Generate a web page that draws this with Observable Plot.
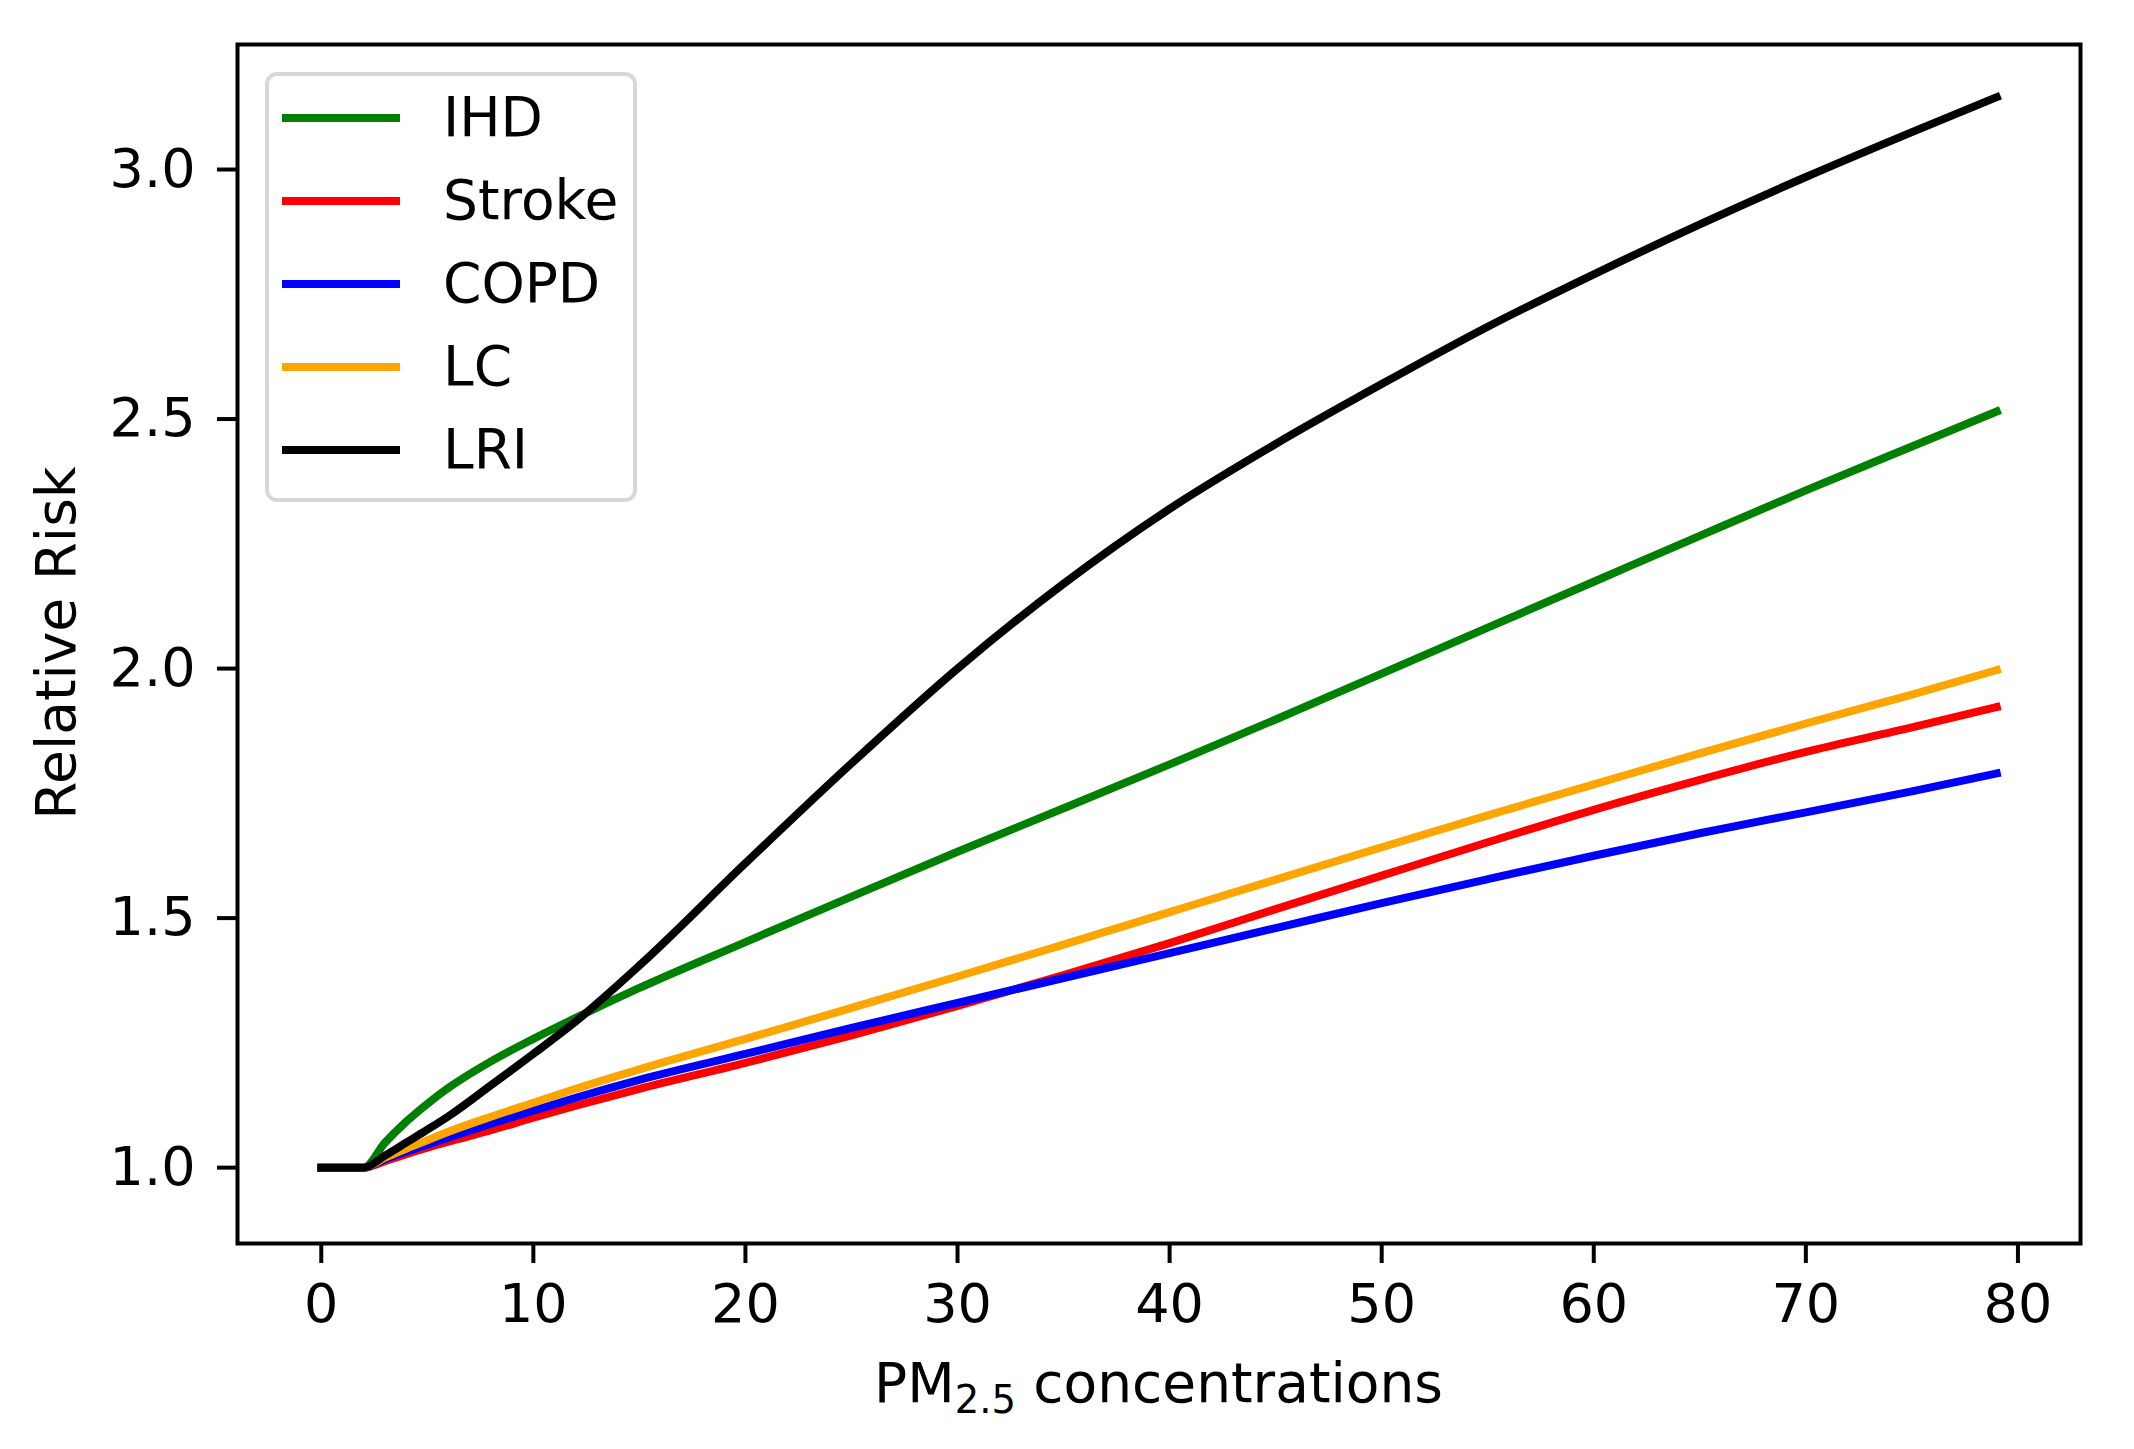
<!DOCTYPE html>
<html>
<head>
<meta charset="utf-8">
<script src="https://cdn.jsdelivr.net/npm/d3@7"></script>
<script src="https://cdn.jsdelivr.net/npm/@observablehq/plot@0.6"></script>
<style>
  html, body { margin: 0; padding: 0; background: #fff; }
  #wrap { position: relative; width: 2134px; height: 1449px; font-family: "DejaVu Sans", sans-serif; color: #000; }
  #legend { position: absolute; left: 265px; top: 72px; width: 364px; height: 422px; border: 4px solid #d8d8d8; border-radius: 12px; background: rgba(255,255,255,0.8); box-sizing: content-box; }
  .row { position: absolute; left: 0; height: 0; }
  .row .sw { position: absolute; left: 13px; width: 118px; height: 8px; top: -4px; }
  .row .lb { position: absolute; left: 174px; top: -34px; font-size: 55px; line-height: 66px; white-space: nowrap; }
  #xlabel { position: absolute; left: 237px; width: 1843px; top: 1348px; text-align: center; font-size: 55px; line-height: 70px; white-space: nowrap; }
  #xlabel sub { font-size: 0.7em; vertical-align: -0.28em; line-height: 0; }
  #ylabel { position: absolute; left: 56px; top: 643px; width: 0; height: 0; }
  #ylabel span { position: absolute; left: 0; top: 0; transform: translate(-50%, -50%) rotate(-90deg); font-size: 55px; line-height: 66px; white-space: nowrap; }
</style>
</head>
<body>
<div id="wrap"></div>
<script>
// PM2.5 concentration sample points
const pm = [0, 2, 3, 4, 5, 6, 8, 10, 12, 15, 20, 25, 30, 35, 40, 45, 50, 55, 60, 65, 70, 75, 79];

const ihd    = [1, 1, 1.050, 1.092, 1.128, 1.160, 1.213, 1.258, 1.300, 1.360, 1.452, 1.543, 1.633, 1.720, 1.808, 1.898, 1.990, 2.082, 2.174, 2.266, 2.357, 2.445, 2.515];
const stroke = [1, 1, 1.013, 1.027, 1.040, 1.052, 1.075, 1.100, 1.124, 1.158, 1.210, 1.265, 1.324, 1.386, 1.450, 1.518, 1.585, 1.652, 1.717, 1.777, 1.833, 1.882, 1.923];
const copd   = [1, 1, 1.017, 1.032, 1.046, 1.060, 1.088, 1.114, 1.140, 1.176, 1.228, 1.280, 1.330, 1.380, 1.430, 1.480, 1.530, 1.578, 1.625, 1.670, 1.712, 1.754, 1.790];
const lc     = [1, 1, 1.020, 1.038, 1.055, 1.072, 1.102, 1.130, 1.158, 1.197, 1.258, 1.320, 1.383, 1.447, 1.512, 1.577, 1.642, 1.706, 1.768, 1.830, 1.890, 1.948, 1.997];
const lri    = [1, 1, 1.024, 1.050, 1.076, 1.103, 1.165, 1.228, 1.293, 1.405, 1.610, 1.810, 2.000, 2.170, 2.320, 2.450, 2.570, 2.685, 2.790, 2.890, 2.985, 3.075, 3.145];

const seriesNames  = ["IHD", "Stroke", "COPD", "LC", "LRI"];
const seriesValues = [ihd, stroke, copd, lc, lri];
const seriesColors = ["green", "red", "blue", "orange", "black"];

const xTicks = [0, 10, 20, 30, 40, 50, 60, 70, 80];
const yTicks = [1.0, 1.5, 2.0, 2.5, 3.0];

const rows = [];
seriesNames.forEach((s, k) => {
  pm.forEach((v, i) => rows.push({series: s, x: v, y: seriesValues[k][i]}));
});

const chart = Plot.plot({
  width: 2134,
  height: 1449,
  marginLeft: 237,
  marginRight: 54,
  marginTop: 44,
  marginBottom: 206,
  style: {fontFamily: "DejaVu Sans, sans-serif", fontSize: "54px", color: "black", background: "white"},
  x: {domain: [-3.95, 82.95]},
  y: {domain: [0.848, 3.2505]},
  color: {domain: seriesNames, range: seriesColors},
  marks: [
    Plot.line(rows, {x: "x", y: "y", z: "series", stroke: "series", strokeWidth: 8, curve: "monotone-x", strokeLinecap: "square", strokeLinejoin: "round"}),
    Plot.frame({stroke: "black", strokeWidth: 4}),
    Plot.axisX({ticks: xTicks, tickSize: 20, tickPadding: 20, strokeWidth: 4, label: null, tickFormat: d3.format("d"), fontSize: 54}),
    Plot.axisY({ticks: yTicks, tickSize: 20, tickPadding: 22, strokeWidth: 4, label: null, tickFormat: d3.format(".1f"), fontSize: 54})
  ]
});

const wrap = document.getElementById("wrap");
wrap.appendChild(chart);

// legend
const legend = document.createElement("div");
legend.id = "legend";
seriesNames.forEach((s, i) => {
  const r = document.createElement("div");
  r.className = "row";
  r.style.top = (42 + i * 83) + "px";
  const sw = document.createElement("div");
  sw.className = "sw";
  sw.style.background = seriesColors[i];
  const lb = document.createElement("div");
  lb.className = "lb";
  lb.textContent = s;
  r.appendChild(sw); r.appendChild(lb);
  legend.appendChild(r);
});
wrap.appendChild(legend);

// axis titles
const xl = document.createElement("div");
xl.id = "xlabel";
xl.innerHTML = "PM<sub>2.5</sub> concentrations";
wrap.appendChild(xl);

const yl = document.createElement("div");
yl.id = "ylabel";
yl.innerHTML = "<span>Relative Risk</span>";
wrap.appendChild(yl);
</script>
</body>
</html>
